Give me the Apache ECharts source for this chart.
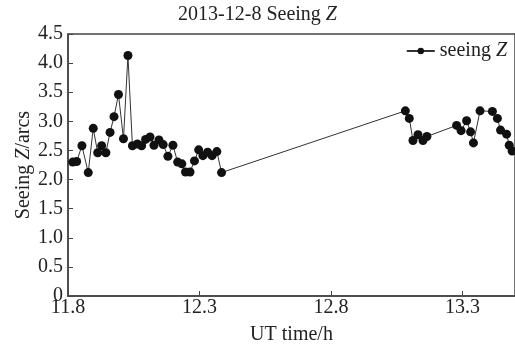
<!DOCTYPE html>
<html>
<head>
<meta charset="utf-8">
<script src="https://cdn.jsdelivr.net/npm/echarts@6/dist/echarts.min.js"></script>
<style>html,body{margin:0;padding:0;background:#fff}#c{width:515px;height:351px}</style>
</head>
<body>
<div id="c"></div>
<script>
var utTimes = [11.818,11.833,11.853,11.877,11.896,11.913,11.928,11.944,11.960,11.975,11.992,12.011,12.028,
  12.045,12.064,12.080,12.095,12.112,12.127,12.146,12.162,12.180,12.199,12.217,12.233,12.247,12.264,12.281,
  12.297,12.313,12.331,12.348,12.366,12.384,
  13.083,13.098,13.112,13.131,13.150,13.165,13.278,13.295,13.316,13.331,13.342,13.367,13.414,13.433,13.445,
  13.468,13.478,13.489];
var seeingZ = [2.30,2.31,2.58,2.12,2.88,2.46,2.58,2.46,2.81,3.08,3.46,2.70,4.13,
  2.58,2.61,2.58,2.69,2.73,2.59,2.68,2.60,2.40,2.59,2.30,2.27,2.13,2.13,2.32,
  2.51,2.41,2.47,2.41,2.48,2.12,
  3.18,3.05,2.67,2.77,2.67,2.74,2.93,2.84,3.01,2.82,2.63,3.18,3.17,3.05,2.85,
  2.78,2.59,2.49];
var xTickLabels = [11.8,12.3,12.8,13.3];
var yTickLabels = ['0','0.5','1.0','1.5','2.0','2.5','3.0','3.5','4.0','4.5'];

var FONT = 'Liberation Serif';
var FS = 20;
var data = utTimes.map(function(t,i){return [t, seeingZ[i]];});
var chart = echarts.init(document.getElementById('c'), null, {renderer:'canvas'});
var rich = {
  a:{fontFamily:FONT,fontSize:FS,color:'#222',fontWeight:'normal'},
  b:{fontFamily:FONT,fontSize:FS,color:'#222',fontStyle:'italic',fontWeight:'normal'}
};
chart.setOption({
  animation:false,
  backgroundColor:'#fff',
  title:{
    text:'{a|2013-12-8 Seeing }{b|Z}',
    left:'center', top:0,
    textStyle:{rich:rich,fontWeight:'normal'}
  },
  legend:{
    data:['seeing Z'],
    right:3, top:36,
    itemWidth:28, itemHeight:8, itemGap:0,
    formatter:function(){return '{a|seeing }{b|Z}';},
    textStyle:{rich:rich}
  },
  grid:{
    left:68, top:34, bottom:55, width:449,
    show:true, borderColor:'#444', borderWidth:1.5
  },
  xAxis:{
    type:'value', min:11.8, max:13.5,
    name:'UT time/h', nameLocation:'middle', nameGap:29, nameMoveOverlap:false,
    nameTextStyle:{fontFamily:FONT,fontSize:FS,color:'#222'},
    axisLine:{lineStyle:{color:'#444',width:1.5}},
    axisTick:{inside:true,length:5,customValues:xTickLabels,lineStyle:{color:'#444'}},
    axisLabel:{customValues:xTickLabels,fontFamily:FONT,fontSize:FS,color:'#222',margin:2,
      formatter:function(v){return v.toFixed(1);}},
    splitLine:{show:false}
  },
  yAxis:{
    type:'value', min:0, max:4.5, interval:0.5,
    name:'{a|Seeing }{b|Z}{a|/arcs}', nameLocation:'middle', nameGap:34, nameRotate:90,
    nameMoveOverlap:false,
    nameTextStyle:{rich:rich},
    axisLine:{show:true,lineStyle:{color:'#444',width:1.5}},
    axisTick:{show:true,inside:true,length:5,lineStyle:{color:'#444'}},
    axisLabel:{fontFamily:FONT,fontSize:FS,color:'#222',margin:5,
      formatter:function(v,i){return yTickLabels[Math.round(v/0.5)];}},
    splitLine:{show:false}
  },
  series:[{
    name:'seeing Z', type:'line', data:data,
    symbol:'circle', symbolSize:9,
    lineStyle:{color:'#333',width:1},
    itemStyle:{color:'#111'},
    clip:false
  }]
});
</script>
</body>
</html>
